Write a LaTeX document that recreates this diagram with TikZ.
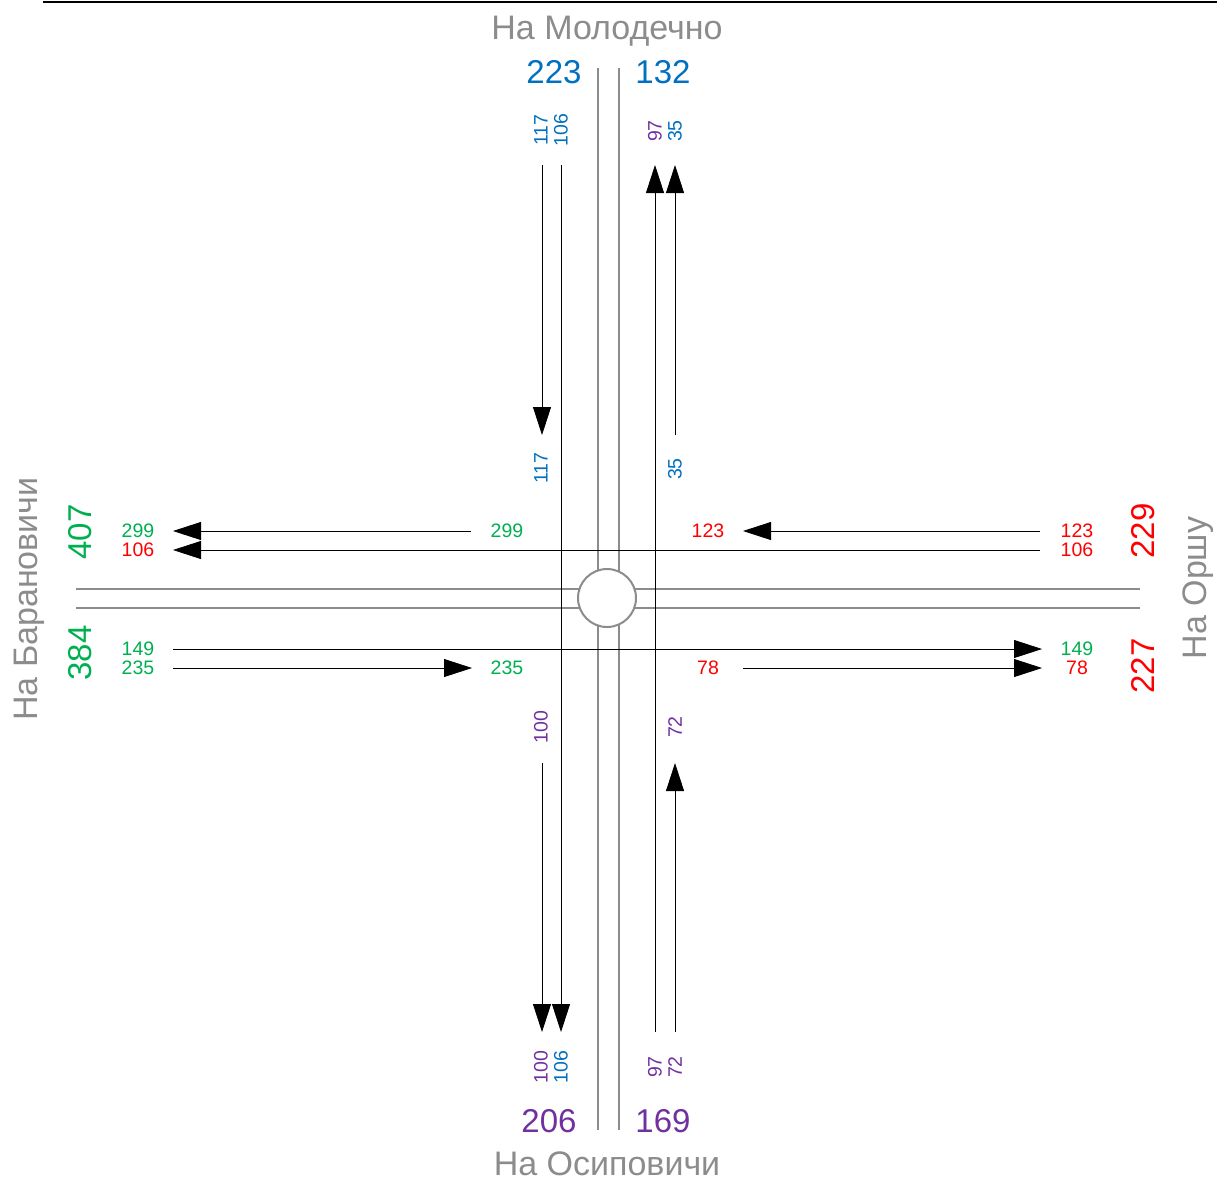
\documentclass[tikz,border=0pt]{standalone}
\usepackage{fontspec}
\setmainfont{Liberation Sans}
\usetikzlibrary{arrows.meta}
\definecolor{roadgray}{HTML}{8C8C8C}
\definecolor{cblue}{HTML}{0070C0}
\definecolor{cgreen}{HTML}{00B050}
\definecolor{cred}{HTML}{FF0000}
\definecolor{cpurple}{HTML}{7030A0}
\begin{document}
\begin{tikzpicture}[x=1pt,y=-1pt,
  road/.style={draw=roadgray,line width=2pt},
  flow/.style={draw=black,line width=0.8pt,-{Triangle[length=28pt,width=18pt]}},
  sm/.style={inner sep=0pt,font=\fontsize{19.5}{19.5}\selectfont},
  bg/.style={inner sep=0pt,font=\fontsize{33}{33}\selectfont},
  dirlab/.style={inner sep=0pt,text=roadgray,text depth=0pt,font=\fontsize{34}{34}\selectfont},
  vt/.style={rotate=90}]
\useasboundingbox (0,0) rectangle (1217,1179);
% top rule
\coordinate (tl) at (43,1.5);
\coordinate (tr) at (1217,1.5);
\draw[line width=2pt] (tl) -- (tr);
% roads
\coordinate (rv1t) at (597.5,68);   \coordinate (rv1b) at (597.5,1130);
\coordinate (rv2t) at (618.5,68);   \coordinate (rv2b) at (618.5,1130);
\coordinate (rh1l) at (76,588.5);   \coordinate (rh1r) at (1140,588.5);
\coordinate (rh2l) at (76,607.5);   \coordinate (rh2r) at (1140,607.5);
\draw[road] (rv1t) -- (rv1b);
\draw[road] (rv2t) -- (rv2b);
\draw[road] (rh1l) -- (rh1r);
\draw[road] (rh2l) -- (rh2r);
\node[circle,draw=roadgray,line width=2pt,fill=white,minimum size=58pt,inner sep=0pt] (ring) at (607,598) {};
% flow end points
\coordinate (a1) at (542,165);  \coordinate (a2) at (542,435);
\coordinate (b1) at (561,165);  \coordinate (b2) at (561,1032);
\coordinate (c1) at (542,763);  \coordinate (c2) at (542,1032);
\coordinate (d1) at (655,1032); \coordinate (d2) at (655,165);
\coordinate (e1) at (675,435);  \coordinate (e2) at (675,165);
\coordinate (f1) at (675,1032); \coordinate (f2) at (675,763);
\coordinate (g1) at (471,531);  \coordinate (g2) at (173,531);
\coordinate (h1) at (1040,550); \coordinate (h2) at (173,550);
\coordinate (i1) at (1040,531); \coordinate (i2) at (743,531);
\coordinate (j1) at (173,649);  \coordinate (j2) at (1042,649);
\coordinate (k1) at (173,668);  \coordinate (k2) at (472,668);
\coordinate (l1) at (743,668);  \coordinate (l2) at (1042,668);
\foreach \p in {a,b,c,d,e,f,g,h,i,j,k,l}{\draw[flow] (\p1) -- (\p2);}
% direction labels
\node[dirlab,anchor=base] (nmol) at (607,39.5) {На Молодечно};
\node[dirlab,anchor=base] (nosi) at (607,1175) {На Осиповичи};
\node[dirlab,vt,anchor=base] (nbar) at (37.5,599) {На Барановичи};
\node[dirlab,vt,anchor=base] (nor) at (1206.5,588) {На Оршу};
% big totals
\node[bg,text=cblue] (t223) at (554,72) {223};
\node[bg,text=cblue] (t132) at (663,72) {132};
\node[bg,text=cpurple] (t206) at (549,1121) {206};
\node[bg,text=cpurple] (t169) at (663,1121) {169};
\node[bg,text=cgreen,vt] (t407) at (80,532) {407};
\node[bg,text=cgreen,vt] (t384) at (80,653) {384};
\node[bg,text=cred,vt] (t229) at (1143,531) {229};
\node[bg,text=cred,vt] (t227) at (1143,666) {227};
% small labels, top
\node[sm,vt,text=cblue] (s1) at (541,130) {117};
\node[sm,vt,text=cblue] (s2) at (561,130) {106};
\node[sm,vt,text=cpurple] (s3) at (655,131) {97};
\node[sm,vt,text=cblue] (s4) at (675,131) {35};
% small labels, middle
\node[sm,vt,text=cblue] (s5) at (541,468) {117};
\node[sm,vt,text=cblue] (s6) at (675,469) {35};
\node[sm,text=cgreen] (s7) at (507,531) {299};
\node[sm,text=cred] (s8) at (708,531) {123};
\node[sm,text=cgreen] (s9) at (507,668) {235};
\node[sm,text=cred] (s10) at (708,668) {78};
\node[sm,vt,text=cpurple] (s11) at (541,727) {100};
\node[sm,vt,text=cpurple] (s12) at (675,727) {72};
% small labels, bottom
\node[sm,vt,text=cpurple] (s13) at (541,1067) {100};
\node[sm,vt,text=cblue] (s14) at (561,1067) {106};
\node[sm,vt,text=cpurple] (s15) at (655,1067) {97};
\node[sm,vt,text=cpurple] (s16) at (675,1067) {72};
% small labels, left
\node[sm,text=cgreen] (s17) at (138,531) {299};
\node[sm,text=cred] (s18) at (138,550) {106};
\node[sm,text=cgreen] (s19) at (138,649) {149};
\node[sm,text=cgreen] (s20) at (138,668) {235};
% small labels, right
\node[sm,text=cred] (s21) at (1077,531) {123};
\node[sm,text=cred] (s22) at (1077,550) {106};
\node[sm,text=cgreen] (s23) at (1077,649) {149};
\node[sm,text=cred] (s24) at (1077,668) {78};
\end{tikzpicture}
\end{document}
